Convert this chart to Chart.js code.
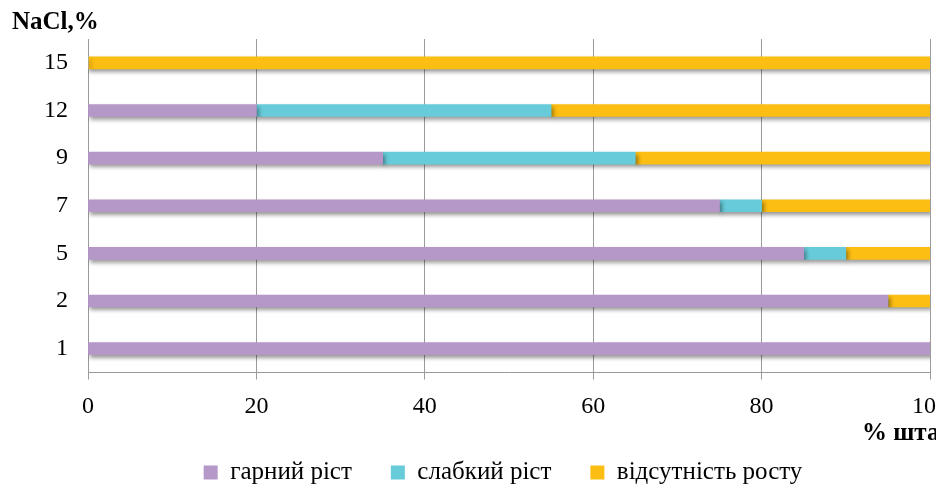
<!DOCTYPE html>
<html lang="uk">
<head>
<meta charset="utf-8">
<title>Ріст штамів за різної концентрації NaCl</title>
<script src="https://cdn.jsdelivr.net/npm/chart.js@4/dist/chart.umd.min.js"></script>
<style>
  html, body { margin: 0; padding: 0; background: #fff; overflow: hidden; }
  #wrap { width: 936px; height: 490px; overflow: hidden; }
</style>
</head>
<body>
<div id="wrap"><canvas id="chart" width="1006" height="495"></canvas></div>
<script>
// NaCl concentration, % (top to bottom)
const categories = ['15', '12', '9', '7', '5', '2', '1'];

// Share of strains, %
const goodGrowth = [0, 20, 35, 75, 85, 95, 100];
const weakGrowth = [0, 35, 30, 5, 5, 0, 0];
const noGrowth   = [100, 45, 35, 20, 10, 5, 0];

const seriesNames = ['гарний ріст', 'слабкий ріст', 'відсутність росту'];
const seriesColors = ['#B597C8', '#67CBD9', '#FCBE12'];

const xTicks = [0, 20, 40, 60, 80, 100];
const yTitle = 'NaCl,%';
const xTitle = '% штамів';

const serif = '"Liberation Serif", "Times New Roman", serif';

// Soft drop shadow under the bars
const barShadow = {
  id: 'barShadow',
  beforeDatasetsDraw(chart) {
    const c = chart.ctx;
    c.save();
    c.shadowColor = 'rgba(0,0,0,0.40)';
    c.shadowBlur = 4;
    c.shadowOffsetX = 2;
    c.shadowOffsetY = 3;
  },
  afterDatasetsDraw(chart) {
    chart.ctx.restore();
  }
};

// Axis captions placed as free text
const axisCaptions = {
  id: 'axisCaptions',
  afterDraw(chart) {
    const c = chart.ctx;
    const xs = chart.scales.x;
    c.save();
    c.fillStyle = '#000';
    c.font = 'bold 25px ' + serif;
    c.textAlign = 'left';
    c.textBaseline = 'alphabetic';
    c.fillText(yTitle, 12, 29);
    c.fillText(xTitle, xs.getPixelForValue(100) - 68, 440);
    c.restore();
  }
};

const datasets = [goodGrowth, weakGrowth, noGrowth].map((vals, i) => ({
  label: seriesNames[i],
  data: vals,
  backgroundColor: seriesColors[i],
  borderWidth: 0,
  barThickness: 12
}));

new Chart(document.getElementById('chart'), {
  type: 'bar',
  data: { labels: categories, datasets },
  options: {
    indexAxis: 'y',
    responsive: false,
    animation: false,
    layout: { padding: { top: 39, right: 0, left: 0, bottom: 0 } },
    scales: {
      x: {
        stacked: true,
        min: 0,
        max: 100,
        afterBuildTicks(scale) { scale.ticks = xTicks.map(v => ({ value: v })); },
        afterFit(scale) { scale.height = 48.5; },
        grid: { color: '#9a9a9a', lineWidth: 1, drawTicks: true, tickLength: 7 },
        border: { color: '#9a9a9a' },
        ticks: { color: '#000', font: { family: serif, size: 24 }, padding: 13, maxRotation: 0 }
      },
      y: {
        stacked: true,
        afterFit(scale) { scale.width = 88; },
        grid: { display: false, drawTicks: false },
        border: { display: true, color: '#9a9a9a' },
        ticks: { color: '#000', font: { family: serif, size: 24 }, padding: 20 }
      },
      // empty margin on the right side of the plot
      yRight: {
        type: 'category',
        position: 'right',
        afterFit(scale) { scale.width = 76; },
        grid: { display: false, drawTicks: false },
        border: { display: false },
        ticks: { display: false }
      }
    },
    plugins: {
      legend: {
        position: 'bottom',
        labels: {
          color: '#000',
          font: { family: serif, size: 25 },
          boxWidth: 14,
          boxHeight: 14,
          padding: 39,
          useBorderRadius: false
        }
      },
      tooltip: { enabled: false },
      title: { display: false }
    }
  },
  plugins: [barShadow, axisCaptions]
});
</script>
</body>
</html>
